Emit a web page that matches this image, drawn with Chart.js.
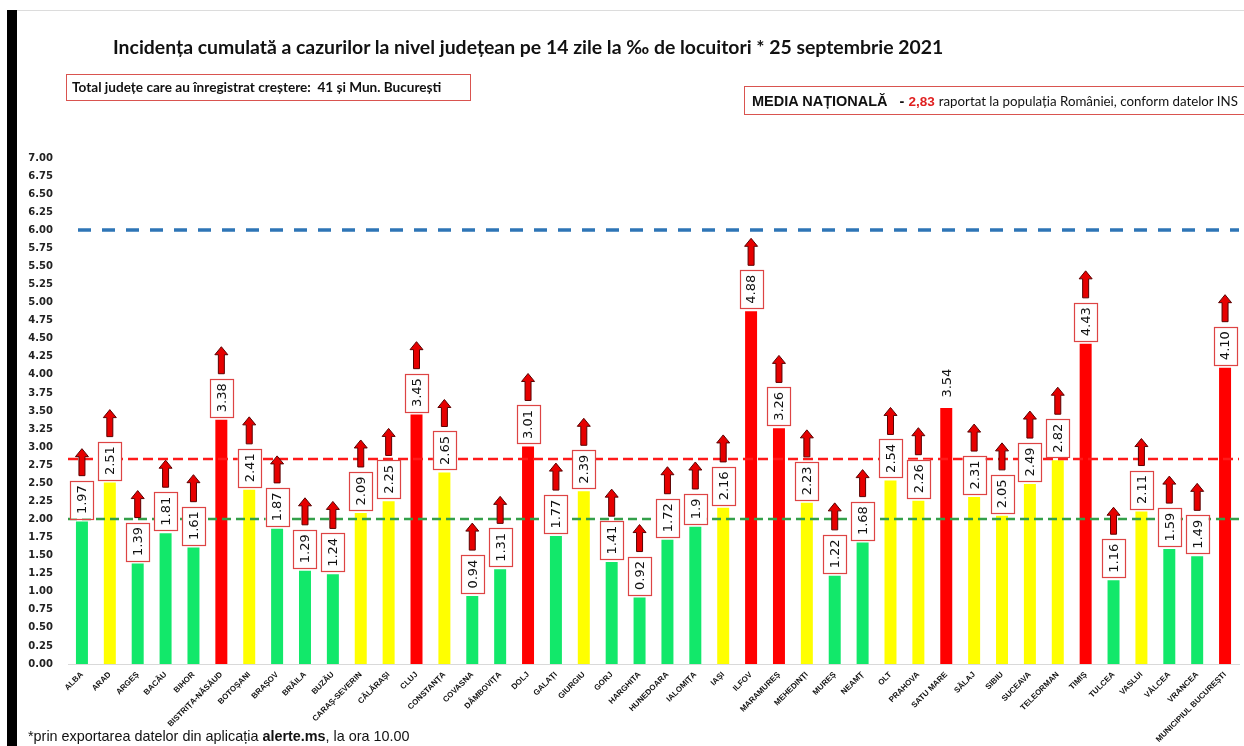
<!DOCTYPE html>
<html>
<head>
<meta charset="utf-8">
<script src="https://cdn.jsdelivr.net/npm/chart.js@4.4.0/dist/chart.umd.min.js"></script>
<style>
    body { margin: 0; background: #fff; }
    #page { position: relative; width: 1244px; height: 746px; overflow: hidden; background: #fff; }
    #chart { position: absolute; left: 0; top: 0; }
    .left-bar { position: absolute; left: 7px; top: 10px; width: 10px; height: 736px; background: #000; }
    .top-line { position: absolute; left: 17px; top: 10px; width: 1227px; height: 1px; background: #dcdcdc; }
    .title { position: absolute; left: 113px; top: 35px; margin: 0; font: bold 19.4px Lato, sans-serif; color: #111; white-space: nowrap; }
    .note { position: absolute; left: 66px; top: 74px; width: 398px; height: 25px; border: 1px solid #d9534f;
            font: bold 13.6px Lato, sans-serif; line-height: 25px; padding-left: 5px; color: #111; white-space: nowrap; }
    .media { position: absolute; left: 744px; top: 86px; width: 540px; height: 27px; border: 1px solid #d9534f;
             line-height: 27px; padding-left: 7px; white-space: nowrap; color: #111; }
    .media b { font: bold 14.5px 'Liberation Sans', Arial, sans-serif; }
    .media .val { color: #e02020; font-size: 13.5px; }
    .media span.rest { font: 13.3px Lato, sans-serif; }
    .footer { position: absolute; left: 28px; top: 728px; font: 14.4px 'Liberation Sans', Arial, sans-serif; color: #111; white-space: nowrap; }
</style>
</head>
<body>
<div id="page">
    <canvas id="chart" width="1244" height="746"></canvas>
    <div class="left-bar"></div>
    <div class="top-line"></div>
    <h1 class="title">Incidența cumulată a cazurilor la nivel județean pe 14 zile la ‰ de locuitori * 25 septembrie 2021</h1>
    <div class="note">Total județe care au înregistrat creștere:&nbsp; 41 și Mun. București</div>
    <div class="media"><b>MEDIA NAȚIONALĂ</b>&nbsp;&nbsp; <b>- <span class="val">2,83</span></b> <span class="rest">raportat la populația României, conform datelor INS</span></div>
    <div class="footer">*prin exportarea datelor din aplicația <b>alerte.ms</b>, la ora 10.00</div>
</div>
<script>
// --- DATA ---
const counties = [
    'ALBA', 'ARAD', 'ARGEȘ', 'BACĂU', 'BIHOR', 'BISTRIȚA-NĂSĂUD', 'BOTOȘANI', 'BRAȘOV', 'BRĂILA', 'BUZĂU',
    'CARAȘ-SEVERIN', 'CĂLĂRAȘI', 'CLUJ', 'CONSTANȚA', 'COVASNA', 'DÂMBOVIȚA', 'DOLJ', 'GALAȚI', 'GIURGIU', 'GORJ',
    'HARGHITA', 'HUNEDOARA', 'IALOMIȚA', 'IAȘI', 'ILFOV', 'MARAMUREȘ', 'MEHEDINȚI', 'MUREȘ', 'NEAMȚ', 'OLT',
    'PRAHOVA', 'SATU MARE', 'SĂLAJ', 'SIBIU', 'SUCEAVA', 'TELEORMAN', 'TIMIȘ', 'TULCEA', 'VASLUI', 'VÂLCEA',
    'VRANCEA', 'MUNICIPIUL BUCUREȘTI'
];
// values as printed on the chart (text keeps "1.9" and "4.10" as shown)
const incidence = [
    '1.97', '2.51', '1.39', '1.81', '1.61', '3.38', '2.41', '1.87', '1.29', '1.24',
    '2.09', '2.25', '3.45', '2.65', '0.94', '1.31', '3.01', '1.77', '2.39', '1.41',
    '0.92', '1.72', '1.9', '2.16', '4.88', '3.26', '2.23', '1.22', '1.68', '2.54',
    '2.26', '3.54', '2.31', '2.05', '2.49', '2.82', '4.43', '1.16', '2.11', '1.59',
    '1.49', '4.10'
];
// counties drawn without the "increase" arrow and box
const noIncrease = ['SATU MARE'];

const nationalAverage = 2.83;
const lowerLimit = 2;
const upperLimit = 6;

const yMin = 0, yMax = 7, yStep = 0.25;

const values = incidence.map(Number);
const barColors = values.map(v => v > 3 ? '#ff0000' : (v >= 2 ? '#ffff00' : '#12e86a'));

// --- DASHED REFERENCE LINES ---
const refLines = {
    id: 'refLines',
    afterDatasetsDraw(chart) {
        const { ctx, chartArea, scales: { y } } = chart;
        const lines = [
            { v: upperLimit, color: '#2e75b6', width: 3.5, dash: [13, 11], x0: chartArea.left + 10 },
            { v: nationalAverage, color: '#ff1a1a', width: 2.6, dash: [10, 5], x0: chartArea.left },
            { v: lowerLimit, color: '#33a04a', width: 2.4, dash: [9, 5], x0: chartArea.left }
        ];
        ctx.save();
        lines.forEach(l => {
            const py = Math.round(y.getPixelForValue(l.v));
            ctx.beginPath();
            ctx.setLineDash(l.dash);
            ctx.strokeStyle = l.color;
            ctx.lineWidth = l.width;
            ctx.moveTo(l.x0, py);
            ctx.lineTo(chartArea.right, py);
            ctx.stroke();
        });
        ctx.restore();
    }
};

// --- VALUE BOXES AND ARROWS ---
function drawArrow(ctx, cx, bottom, len) {
    const shaft = 3, head = 6.5, headLen = 8;
    const top = bottom - len;
    ctx.beginPath();
    ctx.moveTo(cx - shaft, bottom);
    ctx.lineTo(cx - shaft, top + headLen);
    ctx.lineTo(cx - head, top + headLen);
    ctx.lineTo(cx, top);
    ctx.lineTo(cx + head, top + headLen);
    ctx.lineTo(cx + shaft, top + headLen);
    ctx.lineTo(cx + shaft, bottom);
    ctx.closePath();
    ctx.fillStyle = '#e60000';
    ctx.fill();
    ctx.strokeStyle = '#5a0000';
    ctx.lineWidth = 1;
    ctx.stroke();
}

const valueBoxes = {
    id: 'valueBoxes',
    afterDraw(chart) {
        const { ctx } = chart;
        const meta = chart.getDatasetMeta(0);
        ctx.save();
        ctx.font = '13px "DejaVu Sans"';
        meta.data.forEach((bar, i) => {
            const text = incidence[i];
            const tw = ctx.measureText(text).width;
            const cx = bar.x;
            const plain = noIncrease.includes(counties[i]);
            const boxH = tw + 9, boxW = 23;
            const boxBottom = bar.y - (plain ? 6 : 3);
            const boxTop = boxBottom - boxH;
            if (!plain) {
                ctx.fillStyle = '#fff';
                ctx.fillRect(cx - boxW / 2, boxTop, boxW, boxH);
                ctx.strokeStyle = '#dd4444';
                ctx.lineWidth = 1.2;
                ctx.setLineDash([]);
                ctx.strokeRect(Math.round(cx - boxW / 2) + 0.5, Math.round(boxTop) + 0.5, boxW, Math.round(boxH));
                drawArrow(ctx, cx, boxTop - 5, 27);
            }
            // rotated value text
            ctx.save();
            ctx.translate(cx, boxTop + boxH / 2);
            ctx.rotate(-Math.PI / 2);
            ctx.fillStyle = '#111';
            ctx.textAlign = 'center';
            ctx.textBaseline = 'middle';
            ctx.fillText(text, 0, 1);
            ctx.restore();
        });
        ctx.restore();
    }
};

new Chart(document.getElementById('chart'), {
    type: 'bar',
    data: {
        labels: counties,
        datasets: [{
            data: values,
            backgroundColor: barColors,
            borderWidth: 0,
            categoryPercentage: 1,
            barPercentage: 0.43
        }]
    },
    options: {
        responsive: false,
        animation: false,
        devicePixelRatio: 1,
        layout: { padding: { top: 158, right: 5, left: 0, bottom: 0 } },
        plugins: { legend: { display: false }, tooltip: { enabled: false } },
        scales: {
            x: {
                grid: { display: false, drawTicks: false },
                border: { display: true, color: '#d9d9d9', width: 1 },
                ticks: {
                    autoSkip: false,
                    maxRotation: 45,
                    minRotation: 45,
                    padding: 6,
                    color: '#111',
                    font: { family: '"Liberation Sans"', weight: 'bold', size: 8 }
                },
                afterFit: s => { s.height = 82; }
            },
            y: {
                min: yMin,
                max: yMax,
                grid: { display: false, drawTicks: false },
                border: { display: false },
                ticks: {
                    stepSize: yStep,
                    padding: 15,
                    color: '#222',
                    font: { family: '"DejaVu Sans"', weight: 'bold', size: 10 },
                    callback: v => Number(v).toFixed(2)
                },
                afterFit: s => { s.width = 68; }
            }
        }
    },
    plugins: [refLines, valueBoxes]
});
</script>
</body>
</html>
